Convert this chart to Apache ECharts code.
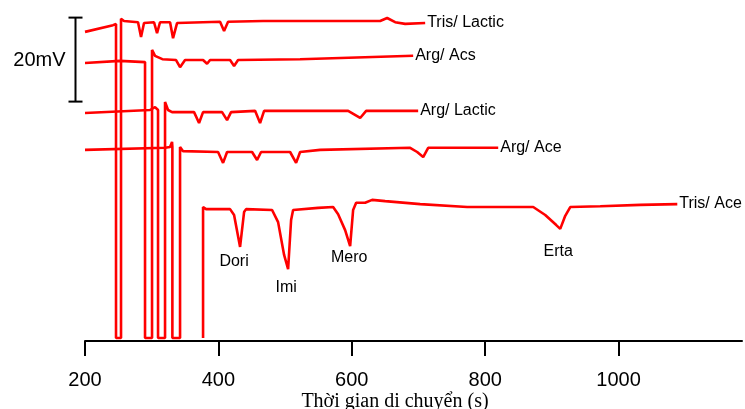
<!DOCTYPE html>
<html><head><meta charset="utf-8">
<script src="https://cdn.jsdelivr.net/npm/echarts@6/dist/echarts.min.js"></script>
<style>html,body{margin:0;padding:0;background:#fff}#c{width:745px;height:409px}</style>
</head><body><div id="c"></div>
<script>
// ---- Data (time in s, signal in mV with vertical offsets as plotted) ----
const traceNames = ['Tris/ Lactic', 'Arg/ Acs', 'Arg/ Lactic', 'Arg/ Ace', 'Tris/ Ace'];

const trisLacticT  = [200, 242, 246.5, 246.5, 254, 254, 258.5, 279.5, 284, 288.5, 303.5, 308, 312.5, 327.5, 332, 338, 402.5, 408.5, 414.5, 467, 642.5, 653, 665, 680, 710];
const trisLacticMV = [73.6, 75.2, 75.5, 0.7, 0.7, 76.7, 76.2, 75.9, 72.4, 75.7, 75.9, 73.3, 75.9, 75.9, 72.1, 75.7, 76.0, 73.8, 76.0, 76.2, 76.2, 76.9, 75.9, 75.5, 75.7];

const argAcsT  = [200, 252.5, 290, 290, 300.5, 300.5, 305, 316, 336.5, 342.5, 350, 377, 383, 387.5, 417.5, 423.5, 429.5, 522.5, 692];
const argAcsMV = [66.2, 66.7, 66.4, 0.7, 0.7, 69.3, 67.9, 67.1, 66.9, 65.2, 66.9, 66.9, 66.0, 66.9, 66.9, 65.5, 66.9, 67.1, 67.9];

const argLacticT  = [200, 297.5, 305, 309.5, 309.5, 320, 320, 324.5, 330.5, 363.5, 371, 377, 405.5, 413, 419, 455, 462.5, 468.5, 594.5, 612.5, 621.5, 699.5];
const argLacticMV = [54.3, 55.0, 55.7, 55.0, 0.7, 0.7, 56.9, 55.0, 54.5, 54.5, 51.9, 54.5, 54.5, 52.6, 54.5, 54.8, 51.9, 54.8, 54.8, 53.1, 54.8, 54.8];

const argAceT  = [200, 320, 327.5, 330.5, 331, 331, 342.5, 342.5, 347, 399.5, 407, 413, 450.5, 458, 464, 507.5, 516.5, 522.5, 552.5, 687.5, 698, 707, 714.5, 819.5];
const argAceMV = [45.5, 46.0, 46.2, 47.4, 46.2, 0.7, 0.7, 46.2, 45.2, 45.0, 42.4, 45.0, 45.0, 43.1, 45.0, 45.0, 42.4, 45.0, 45.5, 46.0, 45.0, 43.8, 46.0, 46.0];

const trisAceT  = [377, 377, 381.5, 417.5, 423.5, 432.5, 438.5, 441.5, 480.5, 489.5, 498.5, 504.5, 509, 512, 549.5, 572, 579.5, 590, 597.5, 602, 606.5, 620, 630.5, 650, 702.5, 773, 872, 890, 906.5, 912.5, 920, 927.5, 972.5, 1032.5, 1088];
const trisAceMV = [0.7, 31.9, 31.4, 31.4, 30.0, 22.4, 30.7, 31.4, 31.2, 28.3, 20.5, 17.1, 28.8, 31.2, 31.7, 31.9, 30.2, 26.4, 22.6, 31.2, 32.9, 32.9, 33.6, 33.3, 32.6, 31.9, 31.9, 30.0, 27.6, 26.7, 29.8, 31.9, 32.1, 32.4, 32.6];

const peakNames = ['Dori', 'Imi', 'Mero', 'Erta'];
const peakTimes = [432.5, 504.5, 597.5, 912.5];
const peakMV    = [22.4, 17.1, 22.6, 26.7];

const xTickValues = [200, 400, 600, 800, 1000];
const scaleBarMV = 20;
const scaleBarTopMV = 77;
const scaleBarLabel = '20mV';
const xAxisTitle = 'Thời gian di chuyển (s)';

// ---- Build ----
const traces = [
  [trisLacticT, trisLacticMV],
  [argAcsT, argAcsMV],
  [argLacticT, argLacticMV],
  [argAceT, argAceMV],
  [trisAceT, trisAceMV]
];
const labelOffsets = [[-6, 15], [-2, 18], [-1, 12], [-2, 23]];
const FONT = 'Arial, Liberation Sans, sans-serif';

const chart = echarts.init(document.getElementById('c'), null, {renderer: 'canvas'});
const series = traces.map((tr, i) => ({
  type: 'line',
  name: traceNames[i],
  data: tr[0].map((t, j) => [t, tr[1][j]]),
  symbol: 'none',
  showSymbol: false,
  lineStyle: {color: '#ff0000', width: 2.6},
  itemStyle: {color: '#ff0000'},
  endLabel: {show: true, formatter: traceNames[i], color: '#000', fontSize: 16, fontFamily: FONT, distance: 2},
  animation: false,
  z: 3
}));
series.push({
  type: 'scatter',
  symbolSize: 0,
  itemStyle: {opacity: 1},
  data: peakNames.map((n, i) => ({name: n, value: [peakTimes[i], peakMV[i]], label: {offset: labelOffsets[i]}})),
  label: {show: true, position: 'inside', formatter: '{b}', color: '#000', fontSize: 16, fontFamily: FONT},
  animation: false,
  silent: true
});

chart.setOption({
  animation: false,
  backgroundColor: '#fff',
  grid: {left: 85, right: 3, top: 5, bottom: 68},
  xAxis: {
    type: 'value', min: 200, max: 1185, interval: 200,
    axisLine: {show: true, lineStyle: {color: '#000', width: 2}},
    axisTick: {show: true, length: 15, lineStyle: {color: '#000', width: 2}, customValues: xTickValues},
    axisLabel: {color: '#000', fontSize: 20, margin: 29, fontFamily: FONT, customValues: xTickValues, formatter: v => String(v)},
    splitLine: {show: false}
  },
  yAxis: {type: 'value', min: 0, max: 80, show: false},
  series: series
});

const p1 = chart.convertToPixel({gridIndex: 0}, [185, scaleBarTopMV]);
const p2 = chart.convertToPixel({gridIndex: 0}, [185, scaleBarTopMV - scaleBarMV]);
const bx = Math.round(p1[0]) + 0.5;
chart.setOption({
  graphic: [
    {type: 'line', shape: {x1: bx, y1: p1[1], x2: bx, y2: p2[1]}, style: {stroke: '#000', lineWidth: 2}},
    {type: 'line', shape: {x1: bx - 7, y1: p1[1], x2: bx + 7, y2: p1[1]}, style: {stroke: '#000', lineWidth: 2}},
    {type: 'line', shape: {x1: bx - 7, y1: p2[1], x2: bx + 7, y2: p2[1]}, style: {stroke: '#000', lineWidth: 2}},
    {type: 'text', x: bx - 10, y: (p1[1] + p2[1]) / 2 + 1, style: {text: scaleBarLabel, fill: '#000', fontSize: 20, fontFamily: FONT, align: 'right', verticalAlign: 'middle'}},
    {type: 'text', x: 395, y: 402, style: {text: xAxisTitle, fill: '#000', fontSize: 20, fontFamily: 'Times New Roman, Liberation Serif, serif', align: 'center', verticalAlign: 'middle'}}
  ]
});
</script></body></html>
